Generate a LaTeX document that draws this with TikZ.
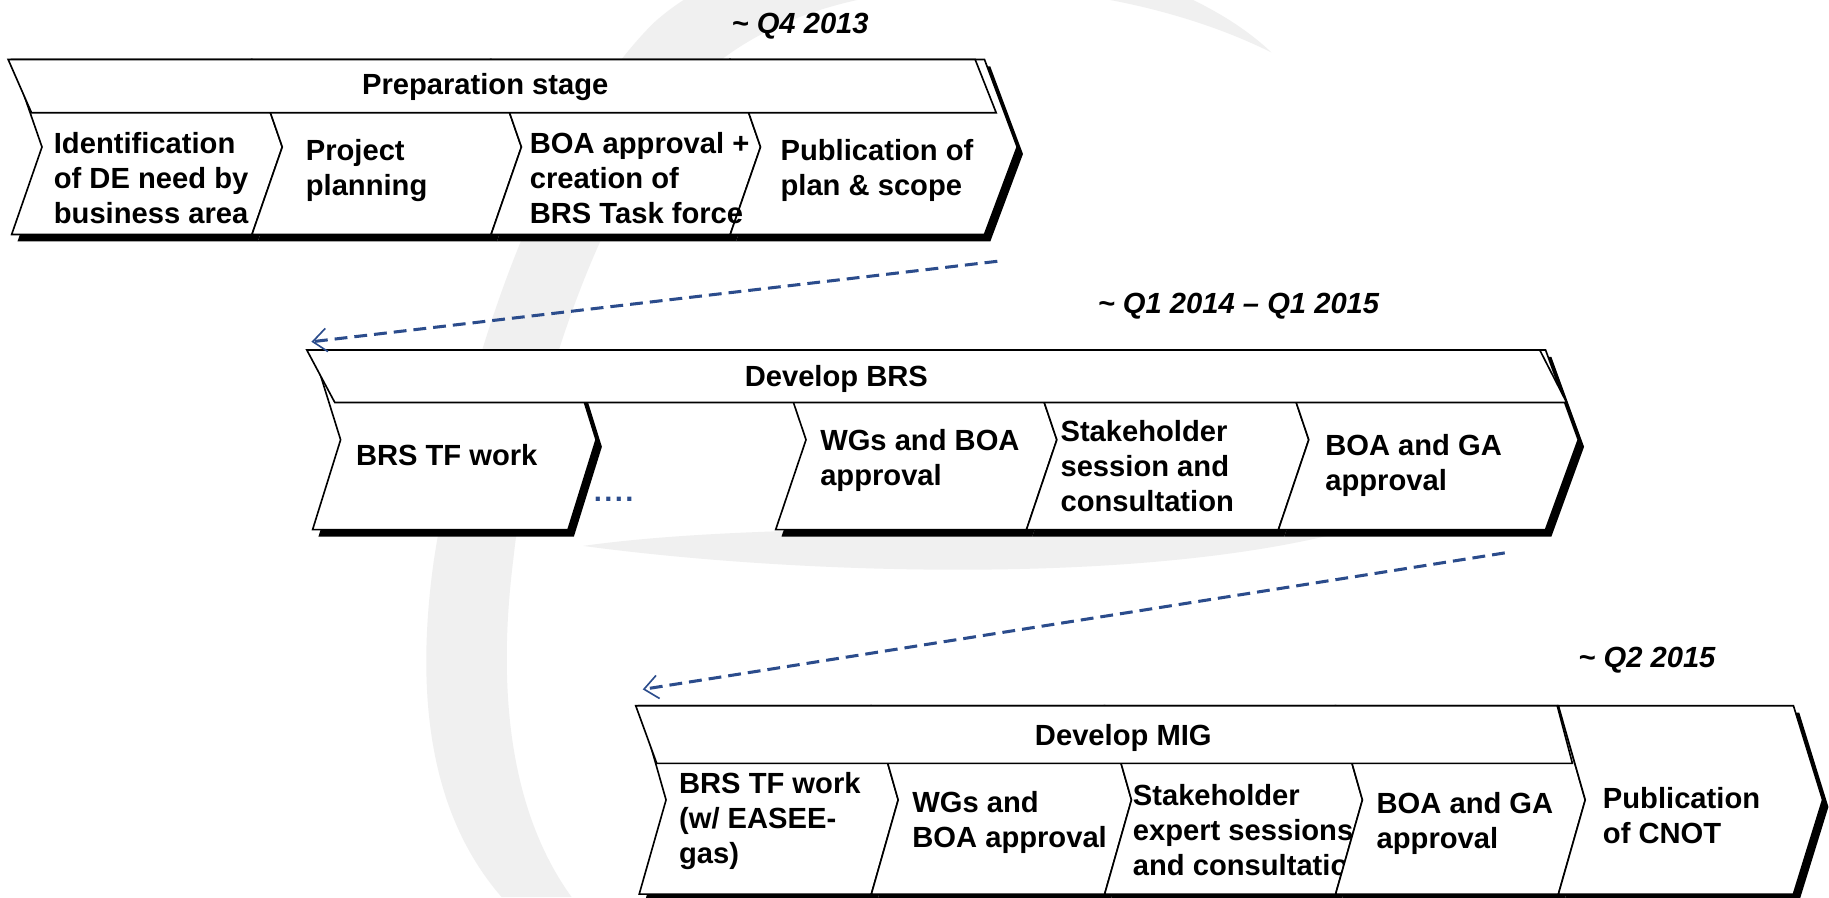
\documentclass[tikz,border=0pt]{standalone}
\usepackage{fontspec}
\setmainfont{Liberation Sans}
\usetikzlibrary{arrows.meta}
\definecolor{arrowblue}{HTML}{2B4C8C}
\definecolor{wmgray}{HTML}{F0F0F0}
\newcommand{\cshadow}[6]{%
  \fill[shad] (#1,#3) -- (#2,#3) -- ({#2+#6},{(#3+#4)/2}) -- (#2,#4) -- (#1,#4) -- ({#1+#5},{(#3+#4)/2}) -- cycle;}
\newcommand{\cbody}[6]{%
  \draw[chev] (#1,#3) -- (#2,#3) -- ({#2+#6},{(#3+#4)/2}) -- (#2,#4) -- (#1,#4) -- ({#1+#5},{(#3+#4)/2}) -- cycle;}
\begin{document}
\begin{tikzpicture}[x=1pt,y=-1pt,
  chev/.style={draw=black, fill=white, line width=1.4pt, line join=miter},
  shad/.style={fill=black, shift={(5,6)}},
  hdr/.style={draw=black, fill=white, line width=1.4pt},
  lbl/.style={font=\fontsize{25}{30}\selectfont\bfseries, anchor=north west, inner sep=0pt, align=left},
  ttl/.style={font=\fontsize{25}{30}\selectfont\bfseries, inner sep=0pt, anchor=base},
  when/.style={font=\fontsize{25}{30}\selectfont\bfseries\itshape, inner sep=0pt},
  flow/.style={draw=arrowblue, line width=2.6pt, dash pattern=on 11pt off 6pt,
    -{Straight Barb[length=12pt,width=20pt,line width=1.4pt]}}
]
\useasboundingbox (0,0) rectangle (1568,769);
\fill[white] (0,0) rectangle (1568,769);
% watermark
\begin{scope}
\clip (0,0) rectangle (1568,769);
\fill[wmgray] (1090,45) .. controls (980,-60) and (680,-90) .. (560,20)
  .. controls (470,110) and (400,300) .. (372,480)
  .. controls (355,600) and (370,700) .. (430,769) -- (490,769)
  .. controls (440,700) and (425,600) .. (440,480)
  .. controls (455,340) and (520,140) .. (620,50)
  .. controls (740,-40) and (960,-20) .. (1090,45) -- cycle;
\fill[wmgray] (500,468) .. controls (700,495) and (1050,505) .. (1215,435)
  .. controls (1050,465) and (700,440) .. (500,468) -- cycle;
\end{scope}

% ---------- top block ----------
\cshadow{10}{216}{51}{201}{26}{26}
\cshadow{216}{421}{51}{201}{26}{26}
\cshadow{421}{626}{51}{201}{26}{26}
\cshadow{626}{844}{51}{201}{26}{28}
\cbody{10}{216}{51}{201}{26}{26}
\cbody{216}{421}{51}{201}{26}{26}
\cbody{421}{626}{51}{201}{26}{26}
\cbody{626}{844}{51}{201}{26}{28}
\draw[hdr] (7,51) -- (836,51) -- (854,96.6) -- (27,96.6) -- cycle;
\node[when, anchor=base] (q1) at (686,29) {\textasciitilde{} Q4 2013};
\node[ttl] (prep) at (416,81) {Preparation stage};
\node[lbl] (t1) at (46,110) {\strut Identification\\of DE need by\\business area};
\node[lbl] (t2) at (262,116) {\strut Project\\planning};
\node[lbl] (t3) at (454,110) {\strut BOA approval +\\creation of\\BRS Task force};
\node[lbl] (t4) at (669,116) {\strut Publication of\\plan \& scope};

% ---------- middle block ----------
\cshadow{268}{487}{300}{454}{24}{24}
\cshadow{665}{880}{300}{454}{26}{26}
\cshadow{880}{1096}{300}{454}{26}{26}
\cshadow{1096}{1325}{300}{454}{26}{28}
\cbody{268}{487}{300}{454}{24}{24}
\cbody{665}{880}{300}{454}{26}{26}
\cbody{880}{1096}{300}{454}{26}{26}
\cbody{1096}{1325}{300}{454}{26}{28}
\draw[hdr] (263,300) -- (1320,300) -- (1343,345) -- (287,345) -- cycle;
\node[when, anchor=base west] (q2) at (941,269) {\textasciitilde{} Q1 2014 – Q1 2015};
\node[ttl] (brs) at (717,331) {Develop BRS};
\node[lbl] (m1) at (305,378) {\strut BRS TF work};
\node[lbl] (m2) at (703,365) {\strut WGs and BOA\\approval};
\node[lbl] (m3) at (909,357) {\strut Stakeholder\\session and\\consultation};
\node[lbl] (m4) at (1136,369) {\strut BOA and GA\\approval};
\node[font=\fontsize{25}{30}\selectfont\bfseries, text=arrowblue, inner sep=0pt, anchor=base west] (dots) at (509,430) {.\kern2pt.\kern2pt.\kern2pt.};

% ---------- bottom block ----------
\cshadow{548}{747}{605}{766.5}{23}{23}
\cshadow{747}{947}{605}{766.5}{23}{23}
\cshadow{947}{1145}{605}{766.5}{23}{23}
\cshadow{1145}{1336}{605}{766.5}{23}{23}
\cshadow{1336}{1537.5}{605}{766.5}{23}{25}
\cbody{548}{747}{605}{766.5}{23}{23}
\node[lbl] (b1) at (582,659) {\strut BRS TF work\\(w/ EASEE-\\gas)};
\cbody{747}{947}{605}{766.5}{23}{23}
\node[lbl] (b2) at (782,675) {\strut WGs and\\BOA approval};
\cbody{947}{1145}{605}{766.5}{23}{23}
\node[lbl] (b3) at (971,669) {\strut Stakeholder\\expert sessions\\and consultation};
\cbody{1145}{1336}{605}{766.5}{23}{23}
\node[lbl] (b4) at (1180,676) {\strut BOA and GA\\approval};
\cbody{1336}{1537.5}{605}{766.5}{23}{25}
\node[lbl] (b5) at (1374,672) {\strut Publication\\of CNOT};
\draw[hdr] (545,605) -- (1335,605) -- (1348,654.4) -- (563,654.4) -- cycle;
\node[when, anchor=base west] (q3) at (1353,572) {\textasciitilde{} Q2 2015};
\node[ttl] (mig) at (963,639) {Develop MIG};

% ---------- connectors ----------
\coordinate (a1s) at (855,224);
\coordinate (a1e) at (267,293);
\coordinate (a2s) at (1290,474);
\coordinate (a2e) at (551,591);
\draw[flow] (a1s) -- (a1e);
\draw[flow] (a2s) -- (a2e);
\end{tikzpicture}
\end{document}
